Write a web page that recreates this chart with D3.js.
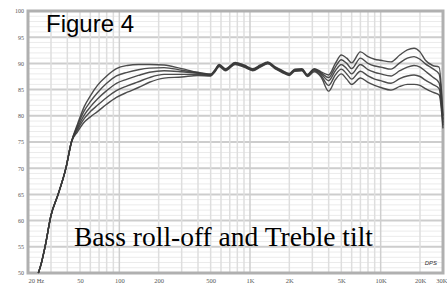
<!DOCTYPE html>
<html lang="en">
<head>
<meta charset="UTF-8">
<title>Figure 4 - Bass roll-off and Treble tilt</title>
<script src="https://d3js.org/d3.v7.min.js"></script>
<style>
    body { margin: 0; background: #fff; }
    svg { display: block; }
    .tick text { fill: #555; }
</style>
</head>
<body>
<svg id="chart" width="447" height="288"></svg>
<script>
// frequencies (Hz) shared by all five response curves
const freqs = [24, 25, 27, 30, 34, 39, 43, 48, 54, 60, 68, 80, 95, 115, 140, 170, 220, 300, 400, 500,
               540, 580, 650, 770, 900, 1050, 1200, 1370, 1550, 1750, 2000, 2200, 2500, 2750, 3100,
               3500, 4000, 4500, 5000, 5500, 6000, 7000, 8000, 9000, 10000, 12000, 14000, 16000,
               18000, 20000, 22000, 25000, 28000, 30000];

// SPL in dB, top curve to bottom curve
const curve1 = [50, 51.4, 55, 61, 65, 70, 75, 78.5, 81.8, 83.8, 85.8, 87.6, 89.0, 89.6, 89.8, 89.8, 89.7, 89.0, 88.3, 88.0,
                88.8, 89.8, 89.0, 90.2, 89.7, 89.0, 89.7, 90.3, 89.4, 88.7, 88.1, 88.9, 89.0, 87.9, 89.0,
                88.4, 87.8, 90.0, 91.6, 91.0, 90.1, 92.2, 91.3, 90.8, 90.6, 90.3, 91.6, 92.6,
                92.9, 92.2, 90.6, 89.6, 89.3, 80.0];
const curve2 = [50, 51.4, 55, 61, 65, 70, 75, 78.2, 81.0, 82.7, 84.4, 86.2, 87.6, 88.3, 88.8, 89.1, 89.2, 88.7, 88.2, 87.9,
                88.7, 89.7, 88.9, 90.1, 89.6, 88.9, 89.6, 90.2, 89.3, 88.6, 88.0, 88.8, 88.9, 87.8, 88.9,
                88.2, 87.3, 89.3, 90.7, 90.0, 89.0, 91.0, 90.0, 89.5, 89.3, 88.9, 90.1, 91.0,
                91.3, 90.8, 89.9, 89.0, 88.0, 79.3];
const curve3 = [50, 51.4, 55, 61, 65, 70, 75, 77.8, 80.2, 81.7, 83.2, 84.8, 86.2, 87.0, 87.7, 88.3, 88.6, 88.4, 88.1, 87.8,
                88.6, 89.6, 88.8, 90.0, 89.5, 88.8, 89.5, 90.1, 89.2, 88.5, 87.9, 88.7, 88.8, 87.7, 88.8,
                88.0, 86.7, 88.6, 89.8, 89.0, 88.0, 89.8, 88.8, 88.3, 88.0, 87.6, 88.6, 89.3,
                89.6, 89.3, 88.5, 87.4, 86.3, 78.7];
const curve4 = [50, 51.4, 55, 61, 65, 70, 75, 77.4, 79.5, 80.8, 82.0, 83.5, 84.8, 85.7, 86.5, 87.3, 87.9, 87.9, 87.9, 87.7,
                88.5, 89.5, 88.7, 89.9, 89.4, 88.7, 89.4, 90.0, 89.1, 88.4, 87.8, 88.6, 88.7, 87.6, 88.6,
                87.7, 85.8, 87.8, 88.9, 88.0, 87.0, 88.5, 87.6, 87.0, 86.7, 86.2, 87.1, 87.6,
                87.8, 87.5, 86.8, 86.0, 85.2, 78.2];
const curve5 = [50, 51.4, 55, 61, 65, 70, 75, 77.0, 78.8, 79.8, 80.8, 82.2, 83.5, 84.5, 85.4, 86.4, 87.2, 87.4, 87.7, 87.6,
                88.4, 89.4, 88.6, 89.8, 89.3, 88.6, 89.3, 89.9, 89.0, 88.3, 87.7, 88.5, 88.6, 87.5, 88.4,
                87.4, 84.7, 86.9, 88.0, 87.0, 86.0, 87.2, 86.4, 85.8, 85.4, 84.9, 85.6, 86.0,
                86.0, 85.8, 85.2, 84.5, 84.0, 77.6];
const curves = [curve1, curve2, curve3, curve4, curve5];

// axis labels
const yTicks = [50, 55, 60, 65, 70, 75, 80, 85, 90, 95, 100];
const xTicks = [20, 50, 100, 200, 500, 1000, 2000, 5000, 10000, 20000, 30000];
const xTickLabels = ["20 Hz", "50", "100", "200", "500", "1K", "2K", "5K", "10K", "20K", "30K"];

const svg = d3.select("#chart");
const plotLeft = 28, plotRight = 443, plotTop = 11, plotBottom = 273;

const x = d3.scaleLog().domain([20, 30000]).range([plotLeft, plotRight]);
const y = d3.scaleLinear().domain([50, 100]).range([plotBottom, plotTop]);

// grid
const grid = svg.append("g");
grid.selectAll("line.ym")
    .data(y.ticks(50))
    .enter().append("line")
    .attr("x1", plotLeft).attr("x2", plotRight)
    .attr("y1", d => y(d)).attr("y2", d => y(d))
    .attr("stroke", d => d % 5 === 0 ? "#cdcdcd" : "#ebebeb")
    .attr("stroke-width", d => d % 5 === 0 ? 2 : 1);
grid.selectAll("line.xm")
    .data(x.ticks())
    .enter().append("line")
    .attr("x1", d => x(d)).attr("x2", d => x(d))
    .attr("y1", plotTop).attr("y2", plotBottom)
    .attr("stroke", d => [100, 1000, 10000].includes(d) ? "#cfcfcf" : "#dedede")
    .attr("stroke-width", 1.5);

// frame
svg.append("rect")
    .attr("x", plotLeft).attr("y", plotTop)
    .attr("width", plotRight - plotLeft).attr("height", plotBottom - plotTop)
    .attr("fill", "none")
    .attr("stroke", "#b0b0b0")
    .attr("stroke-width", 3);

// axes
const yAxis = svg.append("g")
    .attr("transform", `translate(${plotLeft - 2},0)`)
    .call(d3.axisLeft(y).tickValues(yTicks).tickSize(0).tickPadding(2));
yAxis.select(".domain").remove();
yAxis.selectAll("text").attr("font-family", "Liberation Serif").attr("font-size", 6);

const xAxis = svg.append("g")
    .attr("transform", `translate(0,${plotBottom + 2})`)
    .call(d3.axisBottom(x).tickValues(xTicks).tickSize(0).tickPadding(3)
        .tickFormat((d, i) => xTickLabels[i]));
xAxis.select(".domain").remove();
xAxis.selectAll("text").attr("font-family", "Liberation Serif").attr("font-size", 6.5);
xAxis.selectAll(".tick").filter(d => d === 20).select("text").attr("text-anchor", "start");
xAxis.selectAll(".tick").filter(d => d === 30000).select("text")
    .attr("text-anchor", "end").attr("dx", 4);

// response curves
const line = d3.line()
    .x((d, i) => x(freqs[i]))
    .y(d => y(d))
    .curve(d3.curveMonotoneX);

svg.append("g")
    .selectAll("path")
    .data(curves)
    .enter().append("path")
    .attr("d", line)
    .attr("fill", "none")
    .attr("stroke", "#3a3a3a")
    .attr("stroke-width", 1.4)
    .attr("stroke-opacity", 0.9);

// texts
svg.append("text")
    .attr("x", 437).attr("y", 265)
    .attr("text-anchor", "end")
    .attr("font-family", "Liberation Sans")
    .attr("font-style", "italic")
    .attr("font-size", 6)
    .attr("fill", "#333")
    .text("DPS");

svg.append("text")
    .attr("x", 46).attr("y", 32)
    .attr("font-family", "Liberation Sans, Arial, sans-serif")
    .attr("font-size", 24)
    .attr("fill", "#000")
    .text("Figure 4");

svg.append("text")
    .attr("x", 74).attr("y", 246)
    .attr("font-family", "Liberation Serif, Times New Roman, serif")
    .attr("font-size", 27.5)
    .attr("fill", "#000")
    .text("Bass roll-off and Treble tilt");
</script>
</body>
</html>
